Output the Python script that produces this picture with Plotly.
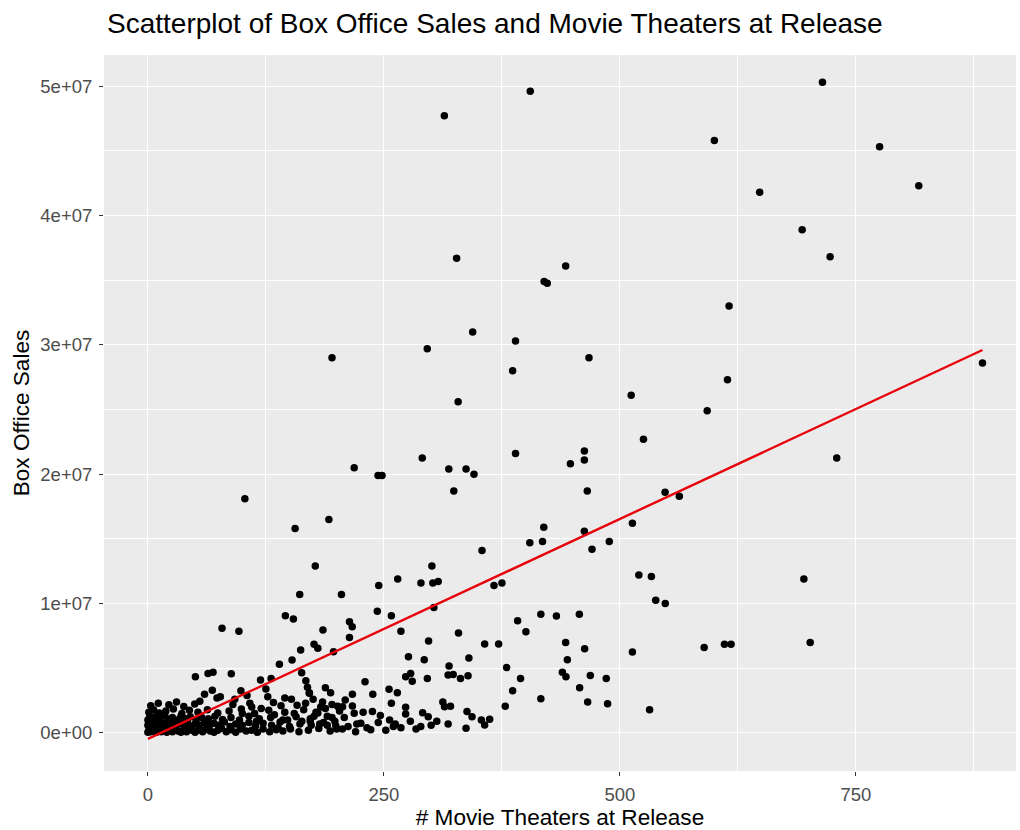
import plotly.graph_objects as go

# Points (theaters, sales in millions)
theaters = [314, 405, 600, 327, 442.5, 419.7, 423, 344, 714.5, 775, 816.5, 648, 693, 722.6, 615.6,
            195, 102.7, 218.5, 243.8, 248, 191.7, 155.9, 295.9, 389.4, 386.3, 467.2, 328.6, 511.9, 592.4,
            524.9, 290.6, 389.4, 462.3, 462.3, 447.5, 318.7, 337, 345.4, 324, 465.4, 547.8, 562.9, 513.2,
            419.3, 462.3, 404.5, 418, 488.7, 470.4, 353.9, 613.9, 729.6, 884,
            177.3, 160.8, 145.6, 154.1, 78.5, 96.4, 161.8, 139.3, 152.7, 50.3, 63.7, 69, 88.3, 119.3, 130.5,
            68.2, 98.5, 162.9, 22.2, 30.3, 49.6, 73.2, 76.7,
            205, 244.5, 264.6, 289.2, 300.8, 301.8, 307.5, 366.6, 375, 243, 257.9, 302.9, 213.5, 216.4, 185.4,
            213.5, 268, 329, 297.3, 356.7, 371.5, 391.6, 400.4, 176, 180, 196.6, 276, 292.7, 340, 319, 380,
            318, 323.4, 331.1, 339.1, 273, 278.3, 280, 296, 394.7, 386.3, 378.5, 230, 255.4, 264.2, 257.9,
            238.2, 216.6, 193.5, 171, 209, 200.9, 206.2, 216.6, 218.5, 237.8, 246.2, 273, 273, 291, 296.9,
            312.4, 320.5, 314.2, 338, 343.3, 353.2, 356.7, 362, 337, 221.3, 225.5,
            520, 533.3, 537.9, 548, 416.2, 432.7, 457, 442.5, 462.6, 513.2, 589.2, 610.7, 617.7, 444.3, 439,
            442.8, 468.6, 485.5, 457.3, 416.2, 465.8, 486.9, 531.4, 694.8, 701.5,
            # dense cluster near the origin
            0, 1, 3, 5, 7, 9, 11, 14, 17, 20, 23, 26, 29, 32, 35, 38, 41, 44, 47, 50, 54, 58, 62, 66, 70,
            74, 78, 83, 88, 93, 98, 104, 110, 116, 122, 129, 136, 143, 151, 160, 170, 181, 193, 206, 220,
            236, 252, 268, 284,
            0, 2, 4, 6, 9, 12, 15, 18, 21, 24, 27, 30, 34, 38, 42, 46, 50, 55, 60, 65, 70, 75, 81, 87, 93,
            100, 107, 114, 122, 131, 140, 150, 161, 173, 186, 199, 262, 300,
            0, 2, 5, 8, 11, 14, 18, 22, 26, 30, 35, 40, 45, 51, 57, 64, 71, 79, 88, 97, 107, 118, 130, 143,
            157, 172, 190,
            1, 6, 12, 19, 27, 36, 44, 53, 63, 74, 86, 99, 113, 128, 145, 165, 180,
            3, 11, 38, 55, 90, 110, 133, 158, 185, 195,
            60, 105, 125, 145, 175, 188,
            172, 178, 183, 190, 195, 200, 203,
            92, 100, 108, 115, 120, 127, 134, 138, 141, 148, 152, 155, 163, 167, 167.3, 169, 171, 176,
            182, 188, 198, 208, 212, 228, 232, 244, 256, 260, 278, 289, 306, 318]
sales_m = [47.7, 49.6, 45.8, 36.7, 36.1, 34.9, 34.75, 31.0, 50.3, 45.3, 42.3, 41.8, 38.9, 36.8, 33.0,
           29.0, 18.1, 20.5, 19.9, 19.9, 16.5, 15.8, 29.7, 30.3, 28.0, 29.0, 25.6, 26.1, 24.9,
           22.7, 21.25, 21.6, 21.8, 21.1, 20.8, 20.4, 20.4, 20.0, 18.7, 18.7, 18.6, 18.3, 16.2,
           15.9, 15.6, 14.7, 14.8, 14.8, 14.2, 14.1, 27.3, 21.25, 28.6,
           12.9, 10.7, 9.06, 8.81, 8.09, 7.86, 6.41, 5.31, 5.64, 4.35, 4.6, 4.7, 4.58, 4.1, 4.2,
           3.3, 3.27, 4.66, 2.19, 2.4, 2.24, 2.7, 2.8,
           10.7, 11.4, 11.9, 11.6, 12.9, 11.6, 11.7, 11.4, 11.6, 9.4, 9.06, 9.7, 8.6, 8.2, 7.96,
           7.37, 7.86, 7.73, 7.1, 6.88, 6.88, 8.68, 7.83, 6.85, 6.54, 6.28, 5.9, 5.66, 5.8, 5.18, 5.05,
           4.48, 4.51, 4.2, 4.43, 4.35, 4.6, 4.0, 4.2, 4.2, 3.27, 2.06, 3.96, 3.37, 3.11, 2.29,
           3.0, 3.0, 3.1, 3.1, 2.55, 2.06, 2.03, 2.09, 1.52, 1.65, 1.34, 1.98, 1.47, 1.57, 1.26,
           2.4, 2.06, 2.03, 1.65, 1.26, 1.0, 0.62, 1.06, 0.36, 0.7, 0.75,
           12.2, 12.1, 10.25, 10.0, 9.17, 9.04, 9.17, 6.99, 6.5, 6.26, 6.6, 6.85, 6.85, 5.66, 4.7,
           4.35, 4.45, 4.2, 3.5, 2.64, 2.4, 2.26, 1.8, 11.9, 7.0,
           0.05, 0.2, 0.1, 0.3, 0.15, 0.05, 0.25, 0.1, 0.3, 0.05, 0.2, 0.1, 0.3, 0.15, 0.05, 0.25, 0.1,
           0.3, 0.2, 0.05, 0.25, 0.1, 0.3, 0.15, 0.05, 0.2, 0.35, 0.1, 0.25, 0.05, 0.3, 0.15, 0.2, 0.05,
           0.3, 0.1, 0.25, 0.15, 0.3, 0.1, 0.2, 0.35, 0.15, 0.3, 0.1, 0.25, 0.2, 0.4, 0.3,
           0.6, 0.8, 0.5, 0.7, 0.55, 0.85, 0.6, 0.75, 0.5, 0.8, 0.65, 0.55, 0.75, 0.6, 0.85, 0.5, 0.7,
           0.6, 0.8, 0.55, 0.75, 0.6, 0.85, 0.5, 0.7, 0.6, 0.8, 0.55, 0.75, 0.6, 0.85, 0.5, 0.7, 0.6,
           0.8, 0.55, 0.7, 0.6,
           1.0, 1.3, 1.1, 1.25, 1.0, 1.2, 1.35, 1.05, 1.2, 1.0, 1.3, 1.1, 1.25, 1.0, 1.2, 1.1, 1.3, 1.05,
           1.2, 1.0, 1.3, 1.1, 1.2, 1.0, 1.25, 1.1, 1.3,
           1.6, 1.8, 1.55, 1.7, 1.85, 1.5, 1.75, 1.6, 1.8, 1.55, 1.7, 1.85, 1.5, 1.75, 1.6, 1.8, 1.55,
           2.1, 2.3, 2.05, 2.45, 2.2, 2.0, 2.35, 2.15, 2.4, 2.2,
           3.0, 2.9, 3.4, 2.7, 2.6, 3.5,
           0.9, 1.6, 2.0, 0.6, 1.2, 0.3, 1.7,
           2.6, 1.5, 2.3, 0.9, 1.9, 2.8, 1.4, 0.4, 2.1, 1.0, 2.6, 1.5, 0.9, 2.3, 4.04, 3.53, 3.06, 1.3,
           0.7, 1.9, 0.9, 1.2, 0.5, 1.6, 0.4, 0.8, 1.0, 0.5, 0.9, 0.5, 0.9, 0.7]

# Linear fit line end points
fit_theaters = [0, 884]
fit_sales_m = [-0.46, 29.6]

sales = [v * 1e6 for v in sales_m]
fit_sales = [v * 1e6 for v in fit_sales_m]

y_ticks = [0, 1e7, 2e7, 3e7, 4e7, 5e7]
y_tick_labels = ["0e+00", "1e+07", "2e+07", "3e+07", "4e+07", "5e+07"]
x_ticks = [0, 250, 500, 750]
x_tick_labels = ["0", "250", "500", "750"]

fig = go.Figure()
fig.add_trace(go.Scatter(x=theaters, y=sales, mode="markers",
                         marker=dict(color="black", size=7.5, line=dict(width=0)),
                         showlegend=False, hoverinfo="x+y"))
fig.add_trace(go.Scatter(x=fit_theaters, y=fit_sales, mode="lines",
                         line=dict(color="#E8000B", width=2.4), showlegend=False))

font_family = "Liberation Sans, Arial, sans-serif"
fig.update_layout(
    width=1020, height=830,
    margin=dict(l=104, r=4, t=55, b=59),
    paper_bgcolor="white", plot_bgcolor="#EBEBEB",
    title=dict(text="Scatterplot of Box Office Sales and Movie Theaters at Release",
               x=107 / 1020, xanchor="left", y=1 - 23 / 830, yanchor="middle",
               font=dict(family=font_family, size=28, color="black")),
    font=dict(family=font_family),
)
fig.update_xaxes(range=[-46.5, 919.5], tickvals=x_ticks, ticktext=x_tick_labels,
                 showgrid=True, gridcolor="white", gridwidth=1.3,
                 minor=dict(dtick=125, tick0=-125, showgrid=True, gridcolor="white", gridwidth=0.6),
                 zeroline=False, showline=False,
                 ticks="outside", ticklen=4, tickcolor="#333333", tickwidth=1,
                 ticklabelstandoff=3,
                 tickfont=dict(family=font_family, size=18.5, color="#4D4D4D"),
                 title=dict(text="# Movie Theaters at Release", standoff=4,
                            font=dict(family=font_family, size=22.6, color="black")))
fig.update_yaxes(range=[-2.94e6, 5.24e7], tickvals=y_ticks, ticktext=y_tick_labels,
                 showgrid=True, gridcolor="white", gridwidth=1.3,
                 minor=dict(dtick=5e6, tick0=-5e6, showgrid=True, gridcolor="white", gridwidth=0.6),
                 zeroline=False, showline=False,
                 ticks="outside", ticklen=4, tickcolor="#333333", tickwidth=1,
                 ticklabelstandoff=3,
                 tickfont=dict(family=font_family, size=18.5, color="#4D4D4D"),
                 title=dict(text="Box Office Sales", standoff=4,
                            font=dict(family=font_family, size=22.6, color="black")))

fig.write_html("out.html")
